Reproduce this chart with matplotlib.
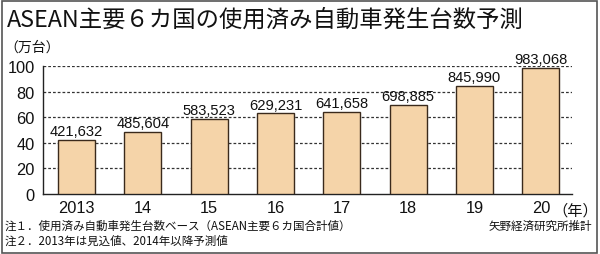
import matplotlib
matplotlib.use("Agg")
import matplotlib.pyplot as plt
from matplotlib.patches import Rectangle

plt.rcParams['font.family'] = ['Noto Sans CJK JP', 'DejaVu Sans']

years = ["2013", "14", "15", "16", "17", "18", "19", "20"]
values = [421632, 485604, 583523, 629231, 641658, 698885, 845990, 983068]
yticks = [0, 20, 40, 60, 80, 100]

title = "ASEAN主要６カ国の使用済み自動車発生台数予測"
unit = "（万台）"
note1 = "注１．使用済み自動車発生台数ベース（ASEAN主要６カ国合計値）"
note2 = "注２．2013年は見込値、2014年以降予測値"
source = "矢野経済研究所推計"

NUMFONT = ['Liberation Sans', 'DejaVu Sans']

W, H = 600, 255
fig = plt.figure(figsize=(W/100, H/100), dpi=100)
fig.patch.set_facecolor('white')

ax_l, ax_r, ax_b, ax_t = 43, 572, 195, 67
ax = fig.add_axes([ax_l/W, 1-ax_b/H, (ax_r-ax_l)/W, (ax_b-ax_t)/H])

x = list(range(len(years)))
vals_man = [v/10000 for v in values]
ax.bar(x, vals_man, width=0.56, color='#F5D4A9', edgecolor='#3a2a1c', linewidth=1.0, zorder=3)
ax.set_xlim(-0.505, 7.47)
ax.set_ylim(0, 100)
ax.set_yticks(yticks)
for yv in yticks[1:]:
    ax.axhline(yv, color='#333333', linestyle=(0, (2.2, 1.6)), linewidth=0.9, zorder=1)

for s in ['top', 'right']:
    ax.spines[s].set_visible(False)
ax.spines['left'].set_color('#222222')
ax.spines['bottom'].set_color('#222222')
ax.spines['left'].set_linewidth(1.0)
ax.spines['bottom'].set_linewidth(1.0)
ax.tick_params(axis='both', length=0, colors='#111111')
ax.tick_params(axis='y', pad=6)
ax.tick_params(axis='x', pad=4)
ax.set_xticks(x)
ax.set_xticklabels(years)
for lab in ax.get_xticklabels() + ax.get_yticklabels():
    lab.set_family(NUMFONT)
    lab.set_fontsize(11.8)

for xi, v, vm in zip(x, values, vals_man):
    ax.text(xi, vm + 1.5, f"{v:,}", ha='center', va='bottom', fontsize=10.6,
            family=NUMFONT, color='#111111')

fig.text(552/W, 1-211/H, "（年）", ha='left', va='center', fontsize=11, color='#111111')

fig.text(7/W, 1-20/H, title, ha='left', va='center', fontsize=16.8, color='#111111')
fig.text(4/W, 1-48/H, unit, ha='left', va='center', fontsize=10, color='#111111')
fig.text(5/W, 1-226/H, note1, ha='left', va='center', fontsize=8.3, color='#111111')
fig.text(5/W, 1-241/H, note2, ha='left', va='center', fontsize=8.3, color='#111111')
fig.text(592/W, 1-226/H, source, ha='right', va='center', fontsize=8.3, color='#111111')

fig.patches.append(Rectangle((1.5/W, 1.5/H), (W-4.5)/W, (H-3.5)/H, transform=fig.transFigure,
                             fill=False, edgecolor='#555555', linewidth=1.2))

fig.savefig("out.png", dpi=100, facecolor='white')
